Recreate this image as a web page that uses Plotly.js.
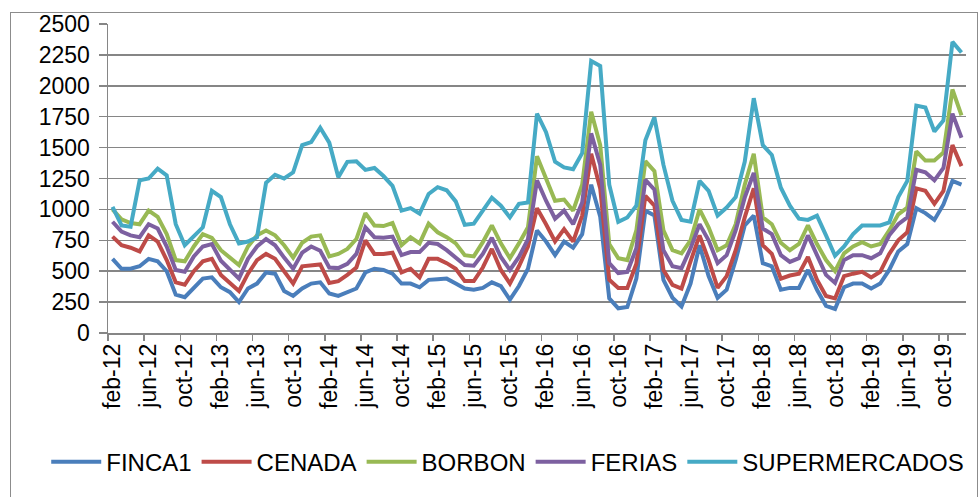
<!DOCTYPE html>
<html>
<head>
<meta charset="utf-8">
<script src="https://cdn.plot.ly/plotly-3.0.1.min.js"></script>
<style>
  html, body { margin: 0; padding: 0; background: #ffffff; }
  #chart { position: absolute; left: 0; top: 0; width: 979px; height: 497px; }
  #frame { position: absolute; left: 10px; top: 12px; width: 968px; height: 486px;
           border: 1px solid #8c8c8c; box-sizing: border-box; pointer-events: none; }
</style>
</head>
<body>
<div id="chart"></div>
<div id="frame"></div>
<script>
const months = [
  "feb-12","mar-12","abr-12","may-12","jun-12","jul-12","ago-12","sep-12","oct-12","nov-12","dic-12","ene-13",
  "feb-13","mar-13","abr-13","may-13","jun-13","jul-13","ago-13","sep-13","oct-13","nov-13","dic-13","ene-14",
  "feb-14","mar-14","abr-14","may-14","jun-14","jul-14","ago-14","sep-14","oct-14","nov-14","dic-14","ene-15",
  "feb-15","mar-15","abr-15","may-15","jun-15","jul-15","ago-15","sep-15","oct-15","nov-15","dic-15","ene-16",
  "feb-16","mar-16","abr-16","may-16","jun-16","jul-16","ago-16","sep-16","oct-16","nov-16","dic-16","ene-17",
  "feb-17","mar-17","abr-17","may-17","jun-17","jul-17","ago-17","sep-17","oct-17","nov-17","dic-17","ene-18",
  "feb-18","mar-18","abr-18","may-18","jun-18","jul-18","ago-18","sep-18","oct-18","nov-18","dic-18","ene-19",
  "feb-19","mar-19","abr-19","may-19","jun-19","jul-19","ago-19","sep-19","oct-19","nov-19","dic-19"
];

const finca1 = [
  600,520,520,540,600,580,500,310,290,370,440,450,
  370,330,250,360,400,490,480,340,300,360,400,410,
  320,300,330,360,490,520,510,480,400,400,370,430,
  435,440,400,360,350,365,410,380,270,380,520,830,
  740,630,740,690,800,1200,940,280,200,210,440,990,
  950,430,285,215,400,710,460,285,350,590,870,950,
  565,540,350,365,365,510,350,220,195,370,400,400,
  360,400,510,660,720,1010,970,915,1040,1230,1200
];

const cenada = [
  780,710,690,660,790,740,590,410,390,500,580,600,
  470,400,340,480,590,640,600,500,400,540,550,555,
  405,420,470,530,750,640,640,650,490,520,450,600,
  600,565,520,420,420,530,680,510,400,540,700,1010,
  880,740,840,740,950,1450,1170,430,365,365,560,1110,
  1030,510,390,360,580,790,590,365,460,670,935,1170,
  710,640,440,465,480,615,430,300,280,460,480,495,
  450,495,640,750,815,1170,1150,1045,1150,1520,1350
];

const borbon = [
  1000,920,890,880,990,940,800,590,580,700,800,770,
  670,610,550,700,790,830,790,710,610,730,780,790,
  620,640,680,760,970,870,865,890,710,775,725,885,
  815,775,725,630,620,735,870,725,605,725,855,1430,
  1240,1070,1080,990,1200,1790,1520,720,605,590,830,1390,
  1310,830,670,645,750,1000,855,670,710,880,1200,1450,
  935,880,730,670,720,870,720,590,500,645,700,735,
  700,720,830,960,1015,1470,1395,1395,1460,1970,1760
];

const ferias = [
  900,820,790,775,880,845,700,510,495,620,700,720,
  585,510,440,600,700,760,710,610,520,650,700,665,
  530,525,560,640,855,775,770,780,630,655,655,730,
  720,670,615,550,545,640,770,615,510,615,760,1235,
  1070,925,990,880,1055,1615,1360,565,485,495,685,1240,
  1160,670,540,525,685,880,750,565,630,830,1095,1295,
  845,800,630,575,605,790,630,470,405,590,630,630,
  605,645,790,880,935,1320,1300,1235,1335,1775,1580
];

const supermercados = [
  1020,870,860,1235,1250,1330,1275,880,710,785,855,1150,
  1100,880,725,740,775,1215,1280,1250,1300,1520,1545,1660,
  1540,1260,1385,1390,1320,1335,1270,1190,990,1010,965,1125,
  1180,1155,1065,875,885,990,1095,1030,935,1045,1055,1775,
  1625,1385,1340,1325,1455,2200,2160,1200,900,935,1030,1560,
  1745,1360,1070,915,900,1230,1150,950,1015,1100,1385,1900,
  1520,1440,1175,1030,925,915,950,790,625,700,800,870,
  870,870,895,1100,1230,1840,1825,1630,1720,2355,2270
];

const seriesNames = ["FINCA1", "CENADA", "BORBON", "FERIAS", "SUPERMERCADOS"];
const seriesValues = [finca1, cenada, borbon, ferias, supermercados];
const seriesColors = ["#4A7EBB", "#BE4B48", "#98B954", "#7D60A0", "#46AAC5"];

const tickLabels = months.filter((m, i) => i % 4 === 0);

const FONT = "Liberation Sans, Arial, sans-serif";

const traces = seriesNames.map((name, k) => ({
  type: "scatter",
  mode: "lines",
  name: name,
  x: months,
  y: seriesValues[k],
  line: { color: seriesColors[k], width: 4 },
  hoverinfo: "x+y+name"
}));

const layout = {
  width: 979,
  height: 497,
  margin: { l: 108, r: 13, t: 24, b: 160, pad: 0 },
  paper_bgcolor: "#ffffff",
  plot_bgcolor: "#ffffff",
  font: { family: FONT, size: 23, color: "#000000" },
  showlegend: true,
  legend: {
    orientation: "h",
    x: -0.072, xanchor: "left",
    y: -0.418, yanchor: "middle",
    font: { family: FONT, size: 24, color: "#000000" },
    itemwidth: 50,
    tracegroupgap: 0,
    bgcolor: "rgba(0,0,0,0)"
  },
  xaxis: {
    type: "category",
    range: [-0.5, 94.5],
    tickmode: "array",
    tickvals: tickLabels,
    ticktext: tickLabels,
    tickson: "boundaries",
    tickangle: -90,
    ticks: "outside",
    ticklen: 6,
    tickwidth: 1.5,
    tickcolor: "#868686",
    showline: true,
    linecolor: "#868686",
    linewidth: 1.5,
    showgrid: false,
    zeroline: false,
    tickfont: { family: FONT, size: 23, color: "#000000" }
  },
  yaxis: {
    range: [0, 2500],
    tick0: 0,
    dtick: 250,
    ticks: "outside",
    ticklen: 8,
    tickwidth: 1.5,
    tickcolor: "#868686",
    showline: true,
    linecolor: "#868686",
    linewidth: 1.5,
    showgrid: true,
    gridcolor: "#868686",
    gridwidth: 1.5,
    zeroline: false,
    ticklabelstandoff: 4,
    tickfont: { family: FONT, size: 23, color: "#000000" }
  }
};

Plotly.newPlot("chart", traces, layout, { displayModeBar: false, staticPlot: true });
</script>
</body>
</html>
